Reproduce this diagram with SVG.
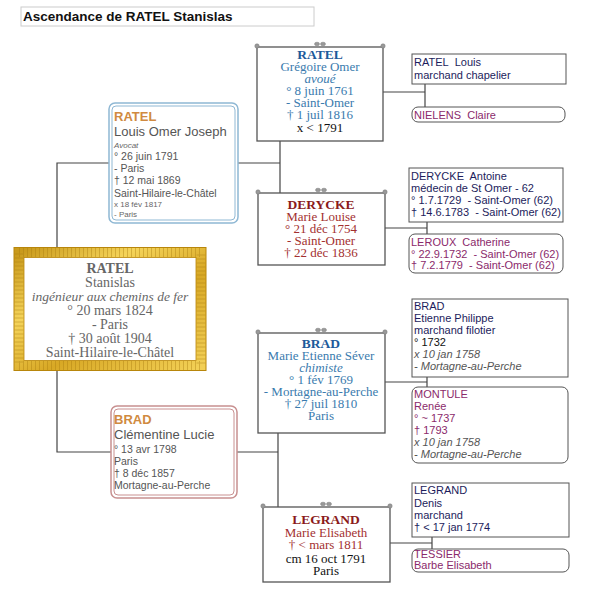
<svg xmlns="http://www.w3.org/2000/svg" width="589" height="600" viewBox="0 0 589 600">
<defs>
<linearGradient id="gold" x1="0" y1="0" x2="1" y2="1">
<stop offset="0" stop-color="#c99a1c"/>
<stop offset="0.3" stop-color="#f5d45a"/>
<stop offset="0.6" stop-color="#d8a825"/>
<stop offset="1" stop-color="#f2cf55"/>
</linearGradient>
</defs>
<style>
.conn{stroke:#444;stroke-width:1.2;fill:none}
.sbox{fill:#fff;stroke:#555;stroke-width:1.3}
.orn{fill:#999;stroke:#777;stroke-width:0.5}
.ser{font-family:"Liberation Serif",serif;font-size:13px;text-anchor:middle}
.sb{font-weight:bold;font-size:13.5px}
.san{font-family:"Liberation Sans",Arial,sans-serif;font-size:10.5px;fill:#555}
.big{font-size:13px}
.tiny{font-size:8px;fill:#666}
.org{fill:#d08a40;font-weight:bold}
.ar{font-family:"Liberation Sans",Arial,sans-serif;font-size:11px}
.hb{fill:#fff;stroke:#555;stroke-width:1}
.nv{fill:#1c1c5c}
.pu{fill:#8b2a6b}
.gr{fill:#555}
.it{font-style:italic}
.blue{fill:#3a7bae}
.dblue{fill:#1d5a9a}
.red{fill:#a33030}
.dred{fill:#8b1a1a}
.blk{fill:#111}
</style>
<rect x="21" y="7" width="293" height="19" fill="#fff" stroke="#ccc" stroke-width="1"/>
<text x="23" y="21" font-family="Liberation Sans,Arial,sans-serif" font-size="13.5" font-weight="bold" fill="#111">Ascendance de RATEL Stanislas</text>

<g id="connectors" class="conn">
<polyline points="110,163 57,163 57,249"/>
<polyline points="112,452 57,452 57,369"/>
<line x1="238" y1="163" x2="280" y2="163"/>
<line x1="280" y1="141" x2="280" y2="193"/>
<line x1="237" y1="452" x2="278" y2="452"/>
<line x1="278" y1="433" x2="278" y2="507"/>
<polyline points="383,92 425,92"/>
<line x1="425" y1="84" x2="425" y2="107"/>
<polyline points="385,228 427,228"/>
<line x1="427" y1="222" x2="427" y2="234"/>
<polyline points="385,382 427,382"/>
<line x1="427" y1="377" x2="427" y2="387"/>
<polyline points="390,543 432,543"/>
<line x1="432" y1="537" x2="432" y2="549"/>
</g>

<g id="n-stanislas">
<rect x="19" y="252.5" width="182" height="113" fill="#fff" stroke="url(#gold)" stroke-width="10"/>
<rect x="19" y="252.5" width="182" height="113" fill="none" stroke="#a87a10" stroke-width="9" stroke-dasharray="1 3" opacity="0.4"/>
<rect x="14" y="247.5" width="192" height="123" fill="none" stroke="#b8860b" stroke-width="1"/>
<rect x="24" y="257.5" width="172" height="103" fill="none" stroke="#b8860b" stroke-width="0.8"/>
<g font-family="Liberation Serif,serif" font-size="14" text-anchor="middle" fill="#666">
<text x="110" y="273" font-weight="bold">RATEL</text>
<text x="110" y="287">Stanislas</text>
<text x="110" y="301" font-style="italic" font-size="13.5">ingénieur aux chemins de fer</text>
<text x="110" y="315">° 20 mars 1824</text>
<text x="110" y="329">- Paris</text>
<text x="110" y="343">† 30 août 1904</text>
<text x="110" y="357">Saint-Hilaire-le-Châtel</text>
</g>
</g>

<g id="n-louis">
<rect x="109" y="103" width="129" height="120" rx="6" fill="#fff" stroke="#8fb8d4" stroke-width="1.5"/>
<rect x="112" y="106" width="123" height="114" rx="4" fill="#fff" stroke="#8fb8d4" stroke-width="1"/>
<text x="114" y="121" class="san big org">RATEL</text>
<text x="114" y="136" class="san big">Louis Omer Joseph</text>
<text x="114" y="148" class="san tiny it">Avocat</text>
<text x="114" y="160" class="san">° 26 juin 1791</text>
<text x="114" y="172" class="san">- Paris</text>
<text x="114" y="184" class="san">† 12 mai 1869</text>
<text x="114" y="197" class="san">Saint-Hilaire-le-Châtel</text>
<text x="114" y="207" class="san tiny">x 18 fév 1817</text>
<text x="114" y="217" class="san tiny">- Paris</text>
</g>

<g id="n-clementine">
<rect x="111" y="406" width="126" height="92" rx="6" fill="#fff" stroke="#c89090" stroke-width="1.5"/>
<rect x="114" y="409" width="120" height="86" rx="4" fill="#fff" stroke="#c89090" stroke-width="1"/>
<text x="114" y="424" class="san big org">BRAD</text>
<text x="114" y="439" class="san big">Clémentine Lucie</text>
<text x="114" y="453" class="san">° 13 avr 1798</text>
<text x="114" y="465" class="san">Paris</text>
<text x="114" y="477" class="san">† 8 déc 1857</text>
<text x="114" y="489" class="san">Mortagne-au-Perche</text>
</g>

<g id="n-gregoire">
<rect x="257" y="47" width="126" height="94" class="sbox"/>
<circle cx="257" cy="46" r="2.2" class="orn"/><circle cx="383" cy="46" r="2.2" class="orn"/>
<ellipse cx="317" cy="44" rx="2.5" ry="1.8" class="orn"/><ellipse cx="323" cy="44" rx="2.5" ry="1.8" class="orn"/>
<text x="320" y="59" class="ser sb dblue">RATEL</text>
<text x="320" y="71" class="ser blue">Grégoire Omer</text>
<text x="320" y="83" class="ser blue it">avoué</text>
<text x="320" y="95" class="ser blue">° 8 juin 1761</text>
<text x="320" y="107" class="ser blue">- Saint-Omer</text>
<text x="320" y="119" class="ser blue">† 1 juil 1816</text>
<text x="320" y="132" class="ser blk">x &lt; 1791</text>
</g>

<g id="n-derycke-ml">
<rect x="258" y="193" width="127" height="72" class="sbox"/>
<circle cx="258" cy="192" r="2.2" class="orn"/><circle cx="385" cy="192" r="2.2" class="orn"/>
<ellipse cx="318" cy="190" rx="2.5" ry="1.8" class="orn"/><ellipse cx="324" cy="190" rx="2.5" ry="1.8" class="orn"/>
<text x="321" y="209" class="ser sb dred">DERYCKE</text>
<text x="321" y="221" class="ser red">Marie Louise</text>
<text x="321" y="233" class="ser red">° 21 déc 1754</text>
<text x="321" y="245" class="ser red">- Saint-Omer</text>
<text x="321" y="257" class="ser red">† 22 déc 1836</text>
</g>

<g id="n-brad-me">
<rect x="258" y="333" width="127" height="100" class="sbox"/>
<circle cx="258" cy="332" r="2.2" class="orn"/><circle cx="385" cy="332" r="2.2" class="orn"/>
<ellipse cx="318" cy="330" rx="2.5" ry="1.8" class="orn"/><ellipse cx="324" cy="330" rx="2.5" ry="1.8" class="orn"/>
<text x="321" y="348" class="ser sb dblue">BRAD</text>
<text x="321" y="360" class="ser blue">Marie Etienne Séver</text>
<text x="321" y="372" class="ser blue it">chimiste</text>
<text x="321" y="384" class="ser blue">° 1 fév 1769</text>
<text x="321" y="396" class="ser blue">- Mortagne-au-Perche</text>
<text x="321" y="408" class="ser blue">† 27 juil 1810</text>
<text x="321" y="420" class="ser blue">Paris</text>
</g>

<g id="n-legrand-me">
<rect x="263" y="507" width="127" height="75" class="sbox"/>
<circle cx="263" cy="506" r="2.2" class="orn"/><circle cx="390" cy="506" r="2.2" class="orn"/>
<ellipse cx="323" cy="504" rx="2.5" ry="1.8" class="orn"/><ellipse cx="329" cy="504" rx="2.5" ry="1.8" class="orn"/>
<text x="326" y="524" class="ser sb dred">LEGRAND</text>
<text x="326" y="537" class="ser red">Marie Elisabeth</text>
<text x="326" y="549" class="ser red">† &lt; mars 1811</text>
<text x="326" y="563" class="ser blk">cm 16 oct 1791</text>
<text x="326" y="575" class="ser blk">Paris</text>
</g>

<g id="n-ratel-louis">
<rect x="412" y="54" width="154" height="30" class="hb"/>
<text x="414" y="66" class="ar nv">RATEL&#160; Louis</text>
<text x="414" y="79" class="ar nv">marchand chapelier</text>
</g>
<g id="n-nielens">
<rect x="412" y="107" width="153" height="15" rx="6" class="hb"/>
<text x="414" y="119" class="ar pu">NIELENS&#160; Claire</text>
</g>

<g id="n-derycke-a">
<rect x="409" y="168" width="154" height="54" class="hb"/>
<text x="411" y="180" class="ar nv">DERYCKE&#160; Antoine</text>
<text x="411" y="192" class="ar nv">médecin de St Omer - 62</text>
<text x="411" y="204" class="ar nv">° 1.7.1729&#160; - Saint-Omer (62)</text>
<text x="411" y="216" class="ar nv">† 14.6.1783&#160; - Saint-Omer (62)</text>
</g>
<g id="n-leroux">
<rect x="409" y="234" width="154" height="39" rx="6" class="hb"/>
<text x="411" y="246" class="ar pu">LEROUX&#160; Catherine</text>
<text x="411" y="258" class="ar pu">° 22.9.1732&#160; - Saint-Omer (62)</text>
<text x="411" y="269" class="ar pu">† 7.2.1779&#160; - Saint-Omer (62)</text>
</g>

<g id="n-brad-e">
<rect x="412" y="299" width="156" height="78" class="hb"/>
<text x="414" y="310" class="ar nv">BRAD</text>
<text x="414" y="322" class="ar nv">Etienne Philippe</text>
<text x="414" y="334" class="ar nv">marchand filotier</text>
<text x="414" y="346" class="ar blk">° 1732</text>
<text x="414" y="358" class="ar gr it">x 10 jan 1758</text>
<text x="414" y="370" class="ar gr it">- Mortagne-au-Perche</text>
</g>
<g id="n-montule">
<rect x="412" y="387" width="156" height="76" rx="6" class="hb"/>
<text x="414" y="398" class="ar pu">MONTULE</text>
<text x="414" y="410" class="ar pu">Renée</text>
<text x="414" y="422" class="ar pu">° ~ 1737</text>
<text x="414" y="434" class="ar pu">† 1793</text>
<text x="414" y="446" class="ar gr it">x 10 jan 1758</text>
<text x="414" y="458" class="ar gr it">- Mortagne-au-Perche</text>
</g>

<g id="n-legrand-d">
<rect x="412" y="483" width="157" height="54" class="hb"/>
<text x="414" y="494" class="ar nv">LEGRAND</text>
<text x="414" y="507" class="ar nv">Denis</text>
<text x="414" y="519" class="ar nv">marchand</text>
<text x="414" y="531" class="ar nv">† &lt; 17 jan 1774</text>
</g>
<g id="n-tessier">
<rect x="412" y="549" width="157" height="23" rx="6" class="hb"/>
<text x="414" y="558" class="ar pu">TESSIER</text>
<text x="414" y="569" class="ar pu">Barbe Elisabeth</text>
</g>
</svg>
